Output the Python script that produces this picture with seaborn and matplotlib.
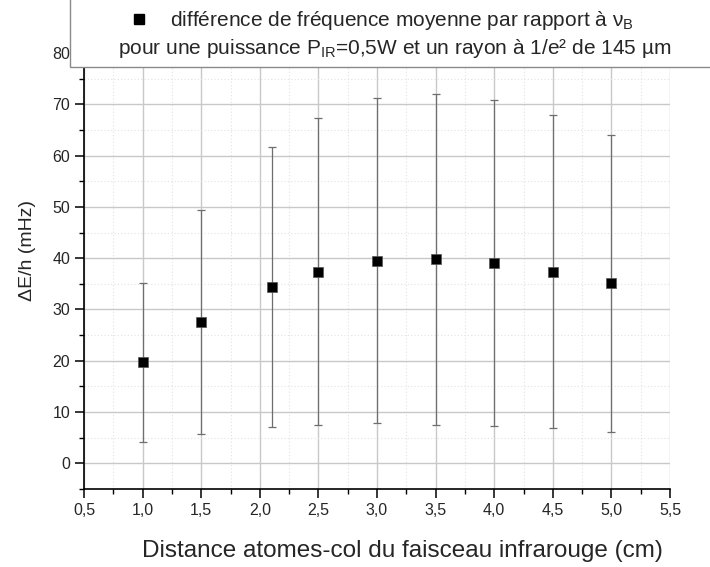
import numpy as np
import pandas as pd
import matplotlib
matplotlib.use("Agg")
import matplotlib.pyplot as plt
import seaborn as sns
from matplotlib.patches import Rectangle
from matplotlib.lines import Line2D
from matplotlib.ticker import MultipleLocator, FuncFormatter

# data
distance = [1.0, 1.5, 2.1, 2.5, 3.0, 3.5, 4.0, 4.5, 5.0]
delta_f = [19.7, 27.6, 34.4, 37.4, 39.5, 39.8, 39.0, 37.4, 35.1]
err = [15.5, 21.8, 27.3, 29.9, 31.7, 32.3, 31.8, 30.6, 29.0]

df = pd.DataFrame({"d": distance, "f": delta_f, "e": err})

sns.set_style("white")
plt.rcParams["font.family"] = ["Liberation Sans", "DejaVu Sans"]
plt.rcParams["mathtext.fontset"] = "custom"
plt.rcParams["mathtext.rm"] = "Liberation Sans"

fig = plt.figure(figsize=(7.1, 5.67), dpi=100)
ax = fig.add_axes([84 / 710, 78 / 567, 586 / 710, 436 / 567])

ax.errorbar(df["d"], df["f"], yerr=df["e"], fmt="none", ecolor="#6e6e6e",
            elinewidth=0.9, capsize=3, capthick=0.9, zorder=2)
sns.scatterplot(data=df, x="d", y="f", marker="s", s=60, color="black",
                edgecolor="#555555", linewidth=0.5, ax=ax, zorder=3, legend=False)

ax.set_xlim(0.5, 5.5)
ax.set_ylim(-5, 80)
ax.xaxis.set_major_locator(MultipleLocator(0.5))
ax.xaxis.set_minor_locator(MultipleLocator(0.25))
ax.yaxis.set_major_locator(MultipleLocator(10))
ax.yaxis.set_minor_locator(MultipleLocator(5))
ax.xaxis.set_major_formatter(FuncFormatter(lambda v, p: f"{v:.1f}".replace(".", ",")))
ax.yaxis.set_major_formatter(FuncFormatter(lambda v, p: f"{v:.0f}"))

ax.grid(True, which="major", color="#c8c8c8", linewidth=1.0, linestyle="-")
ax.grid(True, which="minor", color="#e2e2e2", linewidth=0.8, linestyle=(0, (1, 2)))
ax.set_axisbelow(True)

for s in ["top", "right"]:
    ax.spines[s].set_visible(False)
for s in ["left", "bottom"]:
    ax.spines[s].set_color("black")
    ax.spines[s].set_linewidth(1.2)

ax.tick_params(which="major", direction="out", length=6.5, width=1.1,
               labelsize=11.5, color="black", left=True, bottom=True)
ax.tick_params(which="minor", direction="out", length=3.5, width=1.0,
               color="black", left=True, bottom=True)

ax.set_xlabel("Distance atomes-col du faisceau infrarouge (cm)", fontsize=17.5,
              labelpad=16, x=0.544)
ax.set_ylabel("ΔE/h (mHz)", fontsize=14, labelpad=12, y=0.548)

# legend box on top
box = Rectangle((70 / 710, 1 - 67 / 567), 1.0, 0.2, transform=fig.transFigure,
                facecolor="white", edgecolor="#8a8a8a", linewidth=1.0,
                zorder=10, clip_on=False)
fig.patches.append(box)
fig.lines.append(Line2D([139 / 710], [1 - 19 / 567], marker="s", markersize=7,
                        color="black", transform=fig.transFigure, zorder=11))
fig.text(170 / 710, 1 - 20 / 567,
         "différence de fréquence moyenne par rapport à ν$_\\mathregular{B}$",
         fontsize=15, va="center", ha="left", zorder=11)
fig.text(395 / 710, 1 - 48 / 567,
         "pour une puissance P$_\\mathregular{IR}$=0,5W et un rayon à 1/e² de 145 µm",
         fontsize=15, va="center", ha="center", zorder=11)

fig.savefig("out.png", dpi=100)
